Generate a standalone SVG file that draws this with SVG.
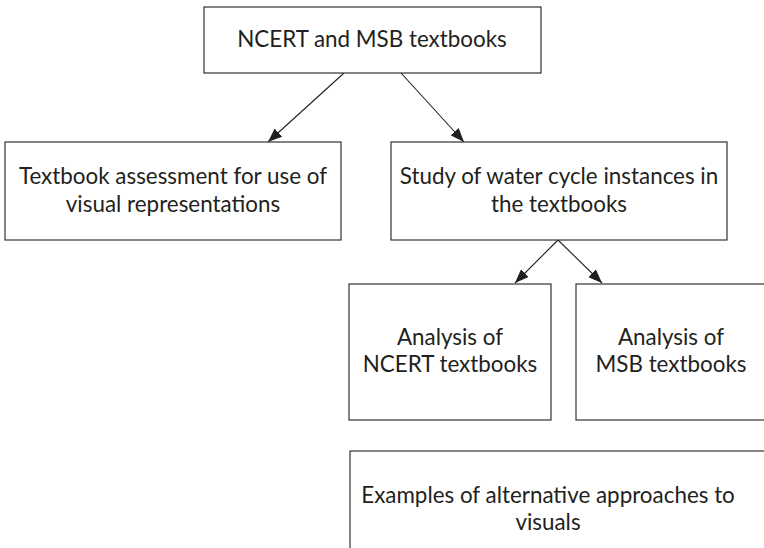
<svg xmlns="http://www.w3.org/2000/svg" width="764" height="548" viewBox="0 0 764 548">
<defs>
<style>
.box{fill:#fff;stroke:#333;stroke-width:1.2}
.t{font-family:Lato,"Liberation Sans",sans-serif;font-size:22.4px;fill:#231f20;text-anchor:middle}
.c{stroke:#231f20;stroke-width:1.1;fill:none}
</style>
<marker id="ah" viewBox="0 0 14 11" refX="14" refY="5.5" markerWidth="14" markerHeight="11" markerUnits="userSpaceOnUse" orient="auto">
<path d="M0,0 L14,5.5 L0,11 Z" fill="#231f20"/>
</marker>
</defs>
<rect width="764" height="548" fill="#fff"/>
<g id="connectors">
<line class="c" x1="344" y1="73" x2="268" y2="142" marker-end="url(#ah)"/>
<line class="c" x1="401" y1="73" x2="464" y2="142" marker-end="url(#ah)"/>
<line class="c" x1="558" y1="240" x2="515" y2="283" marker-end="url(#ah)"/>
<line class="c" x1="558" y1="240" x2="602" y2="283" marker-end="url(#ah)"/>
</g>
<g id="n-top">
<rect class="box" x="204" y="7" width="337" height="66"/>
<text class="t" x="372" y="47">NCERT and MSB textbooks</text>
</g>
<g id="n-assess">
<rect class="box" x="5" y="142" width="336" height="98"/>
<text class="t" x="173" y="184">Textbook assessment for use of</text>
<text class="t" x="173" y="212">visual representations</text>
</g>
<g id="n-study">
<rect class="box" x="391" y="142" width="336" height="98"/>
<text class="t" x="559" y="184">Study of water cycle instances in</text>
<text class="t" x="559" y="212">the textbooks</text>
</g>
<g id="n-ncert">
<rect class="box" x="349" y="284" width="202" height="136"/>
<text class="t" x="450" y="345">Analysis of</text>
<text class="t" x="450" y="372">NCERT textbooks</text>
</g>
<g id="n-msb">
<rect class="box" x="576" y="284" width="200" height="136"/>
<text class="t" x="671" y="345">Analysis of</text>
<text class="t" x="671" y="372">MSB textbooks</text>
</g>
<g id="n-examples">
<rect class="box" x="350" y="451" width="430" height="110"/>
<text class="t" x="548" y="503">Examples of alternative approaches to</text>
<text class="t" x="548" y="530">visuals</text>
</g>
</svg>
